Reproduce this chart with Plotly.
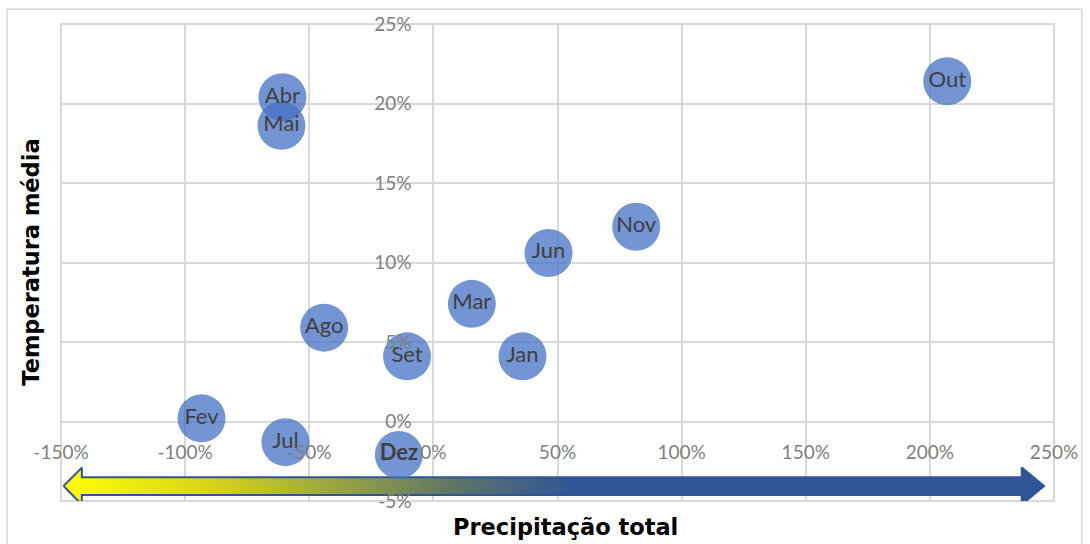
import plotly.graph_objects as go

months = ["Jan", "Fev", "Mar", "Abr", "Mai", "Jun", "Jul", "Ago", "Set", "Out", "Nov", "Dez"]
precip = [35.9, -93.4, 15.5, -60.8, -61.2, 46.4, -59.6, -44.0, -10.6, 207.0, 81.7, -13.9]
temp = [4.1, 0.2, 7.4, 20.4, 18.6, 10.6, -1.3, 5.9, 4.1, 21.4, 12.25, -2.1]
x_ticks = [-150, -100, -50, 0, 50, 100, 150, 200, 250]
y_ticks = [-5, 0, 5, 10, 15, 20, 25]
x_title = "Precipitação total"
y_title = "Temperatura média"

XMIN, XMAX = -150, 250
YMIN, YMAX = -5, 25

labels = [f"<b>{m}</b>" if m == "Dez" else m for m in months]

fig = go.Figure()

# gradient arrow (decoration) in axis units
ay, bh, hh = -4.06, 0.56, 1.16
lx_tip, lx_base = -149.0, -141.6
rx_tip, rx_base = 246.0, 237.0
arrow_x = [lx_tip, lx_base, lx_base, rx_base, rx_base, rx_tip, rx_base, rx_base, lx_base, lx_base, lx_tip]
arrow_y = [ay, ay + hh, ay + bh, ay + bh, ay + hh, ay, ay - hh, ay - bh, ay - bh, ay - hh, ay]
fig.add_trace(go.Scatter(
    x=arrow_x, y=arrow_y, mode="lines", fill="toself",
    line=dict(color="#2F5597", width=2),
    fillgradient=dict(type="horizontal",
                      colorscale=[[0, "#FFFF00"], [0.15, "#D8D418"], [0.3, "#8E9C48"],
                                  [0.4, "#5E7468"], [0.52, "#2F5597"], [1, "#2F5597"]]),
    hoverinfo="skip", showlegend=False,
))

fig.add_trace(go.Scatter(
    x=precip, y=temp, mode="markers+text", text=labels,
    textposition="middle center",
    textfont=dict(family="Lato", size=22, color="#404040"),
    marker=dict(size=48, color="rgba(68,114,196,0.75)", line=dict(width=0)),
    showlegend=False,
))

tickfont = dict(family="Lato", size=19, color="#808080")
fig.update_xaxes(
    range=[XMIN, XMAX], tickvals=x_ticks, ticktext=[f"{v}%" for v in x_ticks],
    showgrid=True, gridcolor="#d9d9d9", gridwidth=2, zeroline=False,
    showline=False, anchor="free", position=(0 - YMIN) / (YMAX - YMIN),
    ticks="outside", ticklen=14, tickcolor="rgba(0,0,0,0)", tickfont=tickfont,
)
fig.update_yaxes(
    range=[YMIN, YMAX], tickvals=y_ticks, ticktext=[f"{v}%" for v in y_ticks],
    showgrid=True, gridcolor="#d9d9d9", gridwidth=2, zeroline=False,
    showline=False, anchor="free", position=(0 - XMIN) / (XMAX - XMIN),
    ticks="outside", ticklen=18, tickcolor="rgba(0,0,0,0)", tickfont=tickfont,
)

fig.add_annotation(text=f"<b>{x_title}</b>", xref="paper", yref="paper",
                   x=0.508, y=-0.055, xanchor="center", yanchor="middle", showarrow=False,
                   font=dict(family="DejaVu Sans", size=22.5, color="#000000"))
fig.add_annotation(text=f"<b>{y_title}</b>", xref="paper", yref="paper",
                   x=-0.031, y=0.5, xanchor="center", yanchor="middle", showarrow=False,
                   textangle=-90, font=dict(family="DejaVu Sans", size=22.5, color="#000000"))

# plot-area frame (edge gridlines) and outer chart border
fig.add_shape(type="rect", xref="paper", yref="paper", x0=0, x1=1, y0=0, y1=1,
              line=dict(color="#d9d9d9", width=2), layer="below")
fig.add_shape(type="rect", xref="paper", yref="paper",
              x0=-0.0542, x1=1.028, y0=-0.2, y1=1.031,
              line=dict(color="#d9d9d9", width=1.5), layer="below")

fig.update_layout(
    width=1090, height=544,
    margin=dict(l=61, r=33, t=21, b=43),
    paper_bgcolor="white", plot_bgcolor="white",
)

fig.write_html("out.html")
